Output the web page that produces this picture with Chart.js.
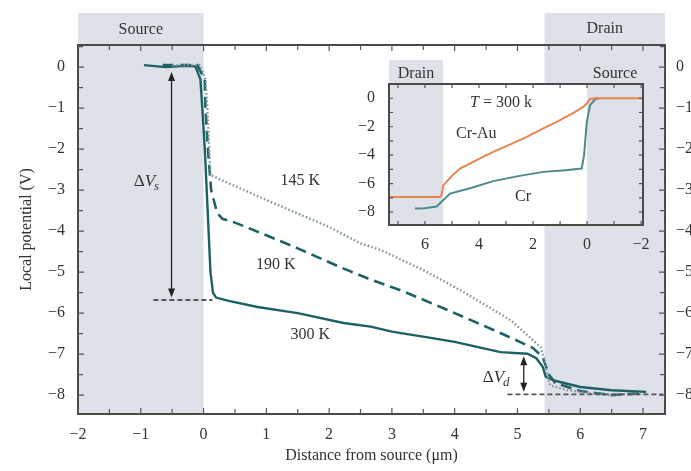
<!DOCTYPE html>
<html>
<head>
<meta charset="utf-8">
<script src="https://cdn.jsdelivr.net/npm/chart.js@4.4.1/dist/chart.umd.min.js"></script>
<style>
html, body { margin: 0; padding: 0; background: #fff; overflow: hidden; }
#wrap { position: relative; width: 691px; height: 471px; }
#main { position: absolute; left: 0; top: 0; }
#inset { position: absolute; left: 355px; top: 55px; }
</style>
</head>
<body>
<div id="wrap">
  <canvas id="main" width="691" height="471"></canvas>
  <canvas id="inset" width="300" height="215"></canvas>
</div>
<script>
// main plot: local potential (V) against distance from source (um)
const xTicks = [-2, -1, 0, 1, 2, 3, 4, 5, 6, 7];
const yTicks = [0, -1, -2, -3, -4, -5, -6, -7, -8];

const t300 = [[-0.95, 0.05], [-0.6, 0.0], [-0.3, 0.03], [-0.13, 0.02], [-0.05, -0.3], [-0.02, -1], [0.02, -2], [0.05, -3],
  [0.08, -4], [0.11, -5], [0.15, -5.5], [0.2, -5.62], [0.4, -5.7], [0.86, -5.85], [1.5, -6.0], [2.23, -6.24],
  [2.66, -6.33], [3.0, -6.45], [3.57, -6.59], [4.0, -6.7], [4.73, -6.95], [5.16, -6.99], [5.3, -7.1], [5.4, -7.3],
  [5.45, -7.55], [5.6, -7.65], [6.0, -7.8], [6.5, -7.88], [7.05, -7.92]];
const t190 = [[-0.65, 0.05], [-0.1, 0.05], [0.02, -0.3], [0.03, -1], [0.07, -2], [0.12, -3], [0.19, -3.4], [0.22, -3.56],
  [0.3, -3.7], [0.48, -3.78], [1.0, -4.1], [1.5, -4.42], [2.18, -4.88], [2.61, -5.15], [3.2, -5.48], [3.82, -5.88],
  [4.62, -6.41], [5.25, -6.85], [5.4, -7.07], [5.5, -7.5], [5.6, -7.7], [6.0, -7.9], [6.5, -8.0], [7.0, -7.95]];
const t145 = [[-0.5, 0.05], [-0.05, 0.05], [0.03, -0.3], [0.06, -1], [0.09, -2], [0.11, -2.63], [0.5, -2.9],
  [1.0, -3.24], [1.5, -3.57], [2.0, -3.9], [2.5, -4.3], [2.82, -4.46], [3.5, -4.95], [4.09, -5.44], [4.89, -6.17],
  [5.37, -6.83], [5.42, -7.1], [5.52, -7.76], [5.8, -7.88], [6.16, -7.95], [6.5, -8.0], [7.0, -7.95]];
const refVs = [[-0.8, -5.68], [0.14, -5.68]];
const refVd = [[4.84, -7.98], [7.32, -7.98]];
const sourceZone = [-2, 0];
const drainZone = [5.43, 7.35];

// inset: T = 300 K, Cr-Au and Cr contacts
const insetXTicks = [6, 4, 2, 0, -2];
const insetYTicks = [0, -2, -4, -6, -8];
const crAu = [[7.3, -6.93], [5.44, -6.93], [5.38, -6.75], [5.32, -6.1], [5.0, -5.45], [4.7, -4.94], [4.0, -4.25],
  [3.47, -3.77], [2.8, -3.2], [2.23, -2.71], [1.6, -2.1], [1.0, -1.54], [0.5, -1.02], [0.14, -0.61], [0.0, -0.35],
  [-0.11, -0.05], [-0.3, 0], [-2.05, 0]];
const cr = [[6.37, -7.74], [6.0, -7.72], [5.57, -7.6], [5.26, -7.04], [5.07, -6.69], [4.3, -6.3], [3.47, -5.82],
  [2.5, -5.45], [1.62, -5.17], [0.8, -5.05], [0.2, -4.94], [0.11, -4.0], [0.01, -1.66], [-0.11, -0.49],
  [-0.3, -0.07], [-0.45, 0]];
const insetDrain = [5.33, 7.33];
const insetSource = [-2.07, 0];

const serif = "'Liberation Serif', 'DejaVu Serif', serif";
const ink = '#333';
const shade = '#dee1e7';

function pts(arr) { return arr.map(p => ({ x: p[0], y: p[1] })); }
function fmt(v) { return v < 0 ? '\u2212' + Math.abs(v) : String(v); }

function drawTicks(chart, stepX, stepY, majorLen, minorLen) {
  const { ctx, chartArea: a, scales } = chart;
  const sx = scales.x, sy = scales.y;
  ctx.save();
  ctx.strokeStyle = '#555';
  ctx.lineWidth = 1.2;
  ctx.beginPath();
  for (let v = Math.ceil(sx.min / stepX) * stepX; v <= sx.max + 1e-9; v += stepX) {
    const px = sx.getPixelForValue(v);
    const l = Math.abs(v - Math.round(v)) < 1e-6 ? majorLen : minorLen;
    ctx.moveTo(px, a.bottom); ctx.lineTo(px, a.bottom - l);
    ctx.moveTo(px, a.top); ctx.lineTo(px, a.top + l);
  }
  for (let v = Math.ceil(sy.min / stepY) * stepY; v <= sy.max + 1e-9; v += stepY) {
    const py = sy.getPixelForValue(v);
    const l = Math.abs(v - Math.round(v)) < 1e-6 ? majorLen : minorLen;
    ctx.moveTo(a.left, py); ctx.lineTo(a.left + l, py);
    ctx.moveTo(a.right, py); ctx.lineTo(a.right - l, py);
  }
  ctx.stroke();
  ctx.restore();
}

function drawFrame(chart, w) {
  const { ctx, chartArea: a } = chart;
  ctx.save();
  ctx.strokeStyle = '#4a4a4a';
  ctx.lineWidth = w;
  ctx.strokeRect(a.left, a.top, a.right - a.left, a.bottom - a.top);
  ctx.restore();
}

function arrowHead(ctx, x, y, dir) {
  ctx.beginPath();
  ctx.moveTo(x, y);
  ctx.lineTo(x - 3.5, y - dir * 9);
  ctx.lineTo(x + 3.5, y - dir * 9);
  ctx.closePath();
  ctx.fill();
}

function doubleArrow(chart, x, y1, y2) {
  const { ctx, scales } = chart;
  const px = scales.x.getPixelForValue(x);
  const pa = scales.y.getPixelForValue(y1);
  const pb = scales.y.getPixelForValue(y2);
  ctx.save();
  ctx.strokeStyle = '#222';
  ctx.fillStyle = '#222';
  ctx.lineWidth = 1.3;
  ctx.beginPath();
  ctx.moveTo(px, pa + 6); ctx.lineTo(px, pb - 6);
  ctx.stroke();
  arrowHead(ctx, px, pa, -1);
  arrowHead(ctx, px, pb, 1);
  ctx.restore();
}

function deltaLabel(chart, x, y, sub) {
  const { ctx, scales } = chart;
  let px = scales.x.getPixelForValue(x);
  const py = scales.y.getPixelForValue(y);
  ctx.save();
  ctx.fillStyle = ink;
  ctx.textBaseline = 'middle';
  ctx.textAlign = 'left';
  ctx.font = '17px ' + serif;
  const w = ctx.measureText('\u0394').width + ctx.measureText('V').width + 6;
  px -= w / 2;
  ctx.fillText('\u0394', px, py);
  px += ctx.measureText('\u0394').width;
  ctx.font = 'italic 17px ' + serif;
  ctx.fillText('V', px, py);
  px += ctx.measureText('V').width - 1;
  ctx.font = 'italic 13px ' + serif;
  ctx.fillText(sub, px, py + 5);
  ctx.restore();
}

function textAt(chart, str, x, y, size) {
  const { ctx, scales } = chart;
  ctx.save();
  ctx.fillStyle = ink;
  ctx.font = size + 'px ' + serif;
  ctx.textAlign = 'center';
  ctx.textBaseline = 'middle';
  ctx.fillText(str, scales.x.getPixelForValue(x), scales.y.getPixelForValue(y));
  ctx.restore();
}

function zone(chart, range, topPx, label, labelY) {
  const { ctx, chartArea: a, scales } = chart;
  const x1 = scales.x.getPixelForValue(range[0]);
  const x2 = scales.x.getPixelForValue(range[1]);
  const l = Math.min(x1, x2), r = Math.max(x1, x2);
  ctx.save();
  ctx.fillStyle = shade;
  ctx.fillRect(l, topPx, r - l, a.bottom - topPx);
  ctx.fillStyle = ink;
  ctx.font = '16px ' + serif;
  ctx.textAlign = 'center';
  ctx.textBaseline = 'middle';
  ctx.fillText(label, (l + r) / 2, labelY);
  ctx.restore();
}

const mainDecor = {
  id: 'mainDecor',
  beforeDatasetsDraw(chart) {
    zone(chart, sourceZone, 13, 'Source', 30);
    zone(chart, drainZone, 13, 'Drain', 29);
  },
  afterDatasetsDraw(chart) {
    drawFrame(chart, 2);
    drawTicks(chart, 0.5, 0.5, 6, 5);
    doubleArrow(chart, -0.51, -0.12, -5.62);
    doubleArrow(chart, 5.1, -7.05, -7.92);
    deltaLabel(chart, -0.88, -2.8, 's');
    deltaLabel(chart, 4.68, -7.56, 'd');
    textAt(chart, '145 K', 1.54, -2.76, 16);
    textAt(chart, '190 K', 1.15, -4.83, 16);
    textAt(chart, '300 K', 1.7, -6.54, 16);
  }
};

const tickFont = { family: serif, size: 16 };

new Chart(document.getElementById('main'), {
  type: 'line',
  data: {
    datasets: [
      { data: pts(refVs), borderColor: '#555', borderWidth: 1.8, borderDash: [5, 3] },
      { data: pts(refVd), borderColor: '#555', borderWidth: 1.8, borderDash: [5, 3] },
      { label: '145 K', data: pts(t145), borderColor: '#86969f', borderWidth: 2.4, borderDash: [1.6, 2.2] },
      { label: '190 K', data: pts(t190), borderColor: '#1f6266', borderWidth: 2.6, borderDash: [11, 6] },
      { label: '300 K', data: pts(t300), borderColor: '#1d6165', borderWidth: 2.4 }
    ]
  },
  options: {
    responsive: false,
    animation: false,
    layout: { padding: { top: 45, left: 0, right: 0, bottom: 0 } },
    elements: { point: { radius: 0 }, line: { tension: 0, fill: false } },
    plugins: { legend: { display: false }, tooltip: { enabled: false } },
    scales: {
      x: {
        type: 'linear', min: -2, max: 7.35,
        grid: { display: false }, border: { display: false },
        afterBuildTicks: s => { s.ticks = xTicks.map(v => ({ value: v })); },
        afterFit: s => { s.height = 57; },
        ticks: { padding: 3, autoSkip: false, maxRotation: 0, font: tickFont, color: ink, callback: v => fmt(v) },
        title: { display: true, text: 'Distance from source (\u03bcm)', font: { family: serif, size: 16 }, color: ink, padding: { top: 0, bottom: 6 } }
      },
      y: {
        type: 'linear', min: -8.46, max: 0.54,
        grid: { display: false }, border: { display: false },
        afterBuildTicks: s => { s.ticks = yTicks.map(v => ({ value: v })); },
        afterFit: s => { s.width = 78; },
        ticks: { padding: 5, font: tickFont, color: ink, callback: v => fmt(v) },
        title: { display: true, text: 'Local potential (V)', font: { family: serif, size: 16 }, color: ink, padding: { top: 17, bottom: 0 } }
      },
      y2: {
        type: 'linear', position: 'right', min: -8.46, max: 0.54,
        grid: { display: false }, border: { display: false },
        afterBuildTicks: s => { s.ticks = yTicks.map(v => ({ value: v })); },
        afterFit: s => { s.width = 26; },
        ticks: { padding: 3, font: tickFont, color: ink, callback: v => fmt(v) }
      }
    }
  },
  plugins: [mainDecor]
});

const insetDecor = {
  id: 'insetDecor',
  beforeDatasetsDraw(chart) {
    const a = chart.chartArea;
    chart.ctx.save();
    chart.ctx.fillStyle = '#fff';
    chart.ctx.fillRect(a.left, a.top, a.right - a.left, a.bottom - a.top);
    chart.ctx.restore();
    zone(chart, insetDrain, 5, 'Drain', 19);
    zone(chart, insetSource, 5, 'Source', 19);
  },
  afterDatasetsDraw(chart) {
    drawFrame(chart, 2);
    drawTicks(chart, 1, 1, 4, 4);
    const { ctx, scales } = chart;
    ctx.save();
    ctx.fillStyle = ink;
    ctx.textBaseline = 'middle';
    ctx.textAlign = 'left';
    const px = scales.x.getPixelForValue(4.33);
    const py = scales.y.getPixelForValue(-0.35);
    ctx.font = 'italic 16px ' + serif;
    ctx.fillText('T', px, py);
    const tw = ctx.measureText('T').width;
    ctx.font = '16px ' + serif;
    ctx.fillText(' = 300 k', px + tw, py);
    ctx.restore();
    textAt(chart, 'Cr-Au', 4.1, -2.5, 16);
    textAt(chart, 'Cr', 2.37, -6.9, 16);
  }
};

new Chart(document.getElementById('inset'), {
  type: 'line',
  data: {
    datasets: [
      { label: 'Cr-Au', data: pts(crAu), borderColor: '#e8844c', borderWidth: 2 },
      { label: 'Cr', data: pts(cr), borderColor: '#4d8a8d', borderWidth: 2 }
    ]
  },
  options: {
    responsive: false,
    animation: false,
    layout: { padding: { top: 29, left: 0, right: 12, bottom: 0 } },
    elements: { point: { radius: 0 }, line: { tension: 0, fill: false } },
    plugins: { legend: { display: false }, tooltip: { enabled: false } },
    scales: {
      x: {
        type: 'linear', min: -2.07, max: 7.33, reverse: true,
        grid: { display: false }, border: { display: false },
        afterBuildTicks: s => { s.ticks = insetXTicks.map(v => ({ value: v })); },
        afterFit: s => { s.height = 45; },
        ticks: { padding: 2, autoSkip: false, maxRotation: 0, font: tickFont, color: ink, callback: v => fmt(v) }
      },
      y: {
        type: 'linear', min: -8.9, max: 1.0,
        grid: { display: false }, border: { display: false },
        afterBuildTicks: s => { s.ticks = insetYTicks.map(v => ({ value: v })); },
        afterFit: s => { s.width = 34; },
        ticks: { padding: 6, font: tickFont, color: ink, callback: v => fmt(v) }
      }
    }
  },
  plugins: [insetDecor]
});
</script>
</body>
</html>
